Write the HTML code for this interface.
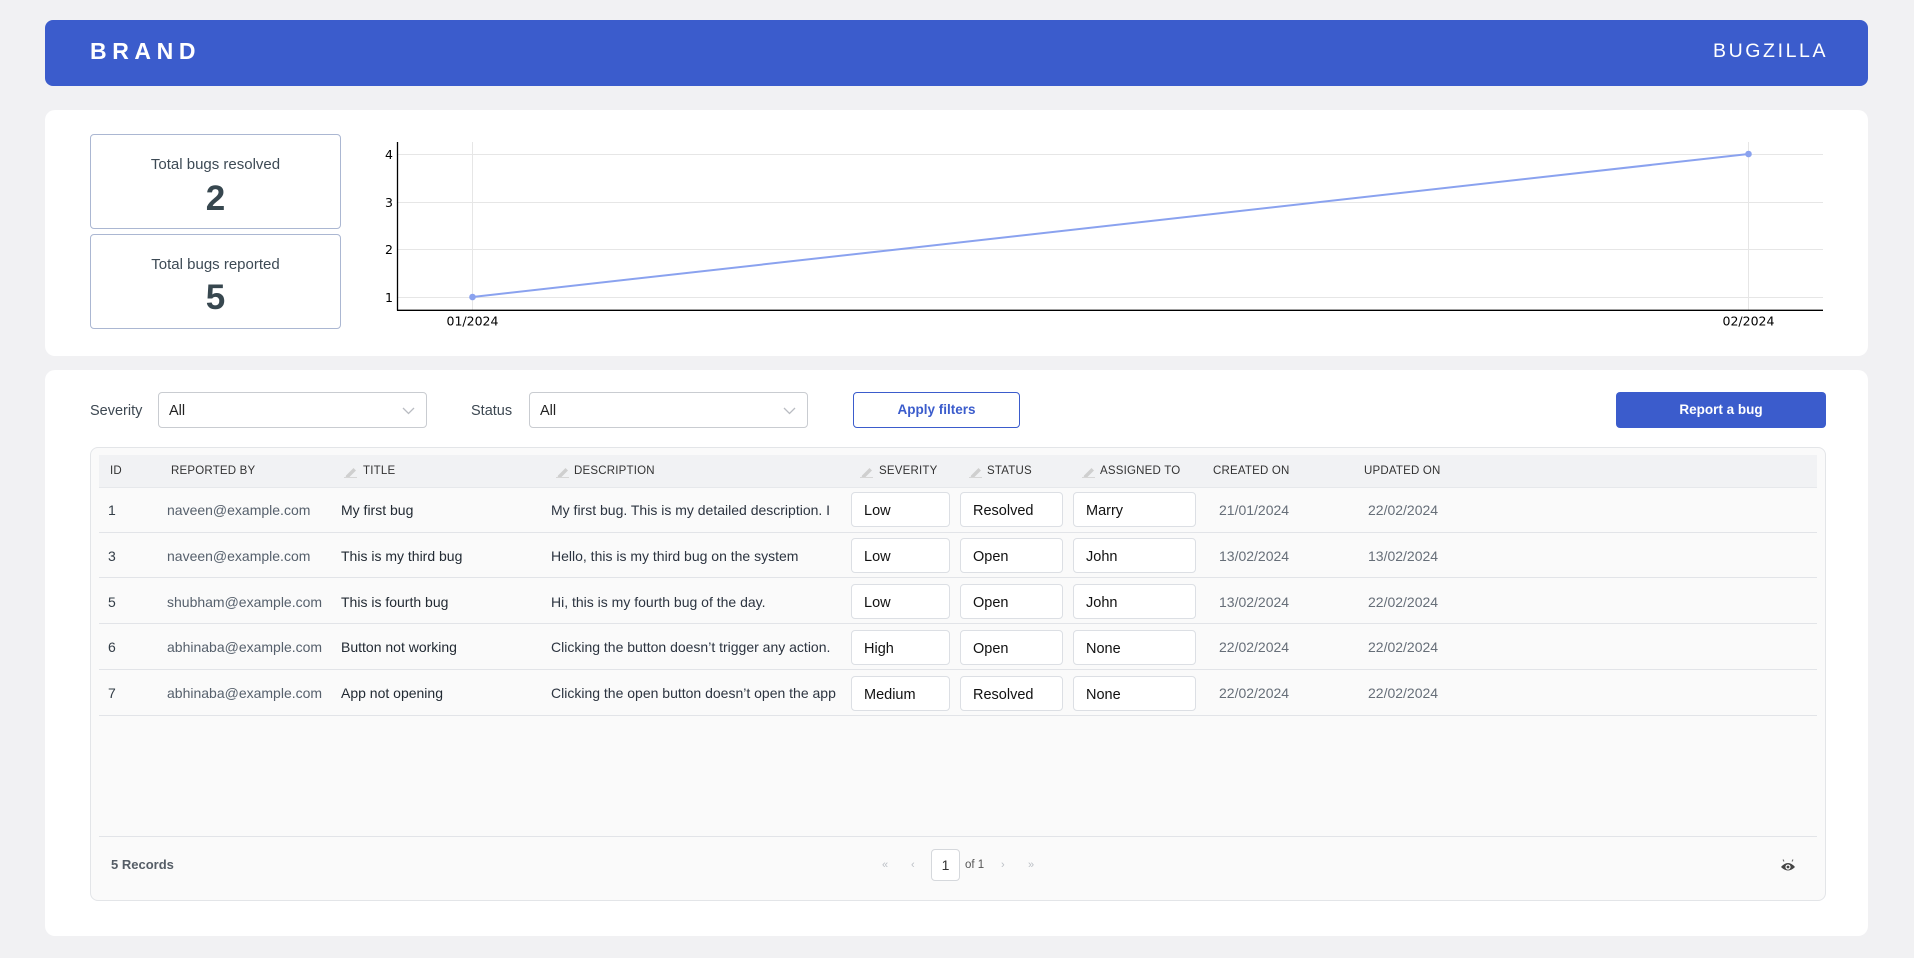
<!DOCTYPE html>
<html><head><meta charset="utf-8">
<style>
*{box-sizing:border-box;margin:0;padding:0}
html,body{width:1914px;height:958px}
body{background:#f1f1f3;font-family:"Liberation Sans",sans-serif;position:relative;overflow:hidden;color:#333}
.a{position:absolute;white-space:nowrap}
.hdr{left:45px;top:20px;width:1823px;height:66px;background:#3b5ccc;border-radius:8px}
.card{background:#fff;border-radius:10px}
.stat{border:1px solid #abb7d2;border-radius:4px;background:#fff}
.st{font-size:15px;color:#3d4a55;text-align:center;width:251px;height:18px;line-height:18px}
.sn{font-size:35px;font-weight:bold;color:#37474f;text-align:center;width:251px;height:36px;line-height:36px}
.lbl{font-size:14.5px;color:#3d4852;height:20px;line-height:20px}
.sel{border:1px solid #c9ccd1;border-radius:4px;background:#fff;height:36px;top:392px}
.sel span{position:absolute;left:10px;top:8px;font-size:14.5px;line-height:20px;color:#222}
.sel svg{position:absolute;top:14px}
.th{font-size:11.5px;color:#333;top:462px;height:18px;line-height:18px;letter-spacing:0.2px}
.pen{position:absolute;top:467px}
.td{font-size:14px;height:20px;line-height:20px}
.box{border:1px solid #dcdfe4;border-radius:4px;background:#fff;height:35px;font-size:14.5px;color:#111;line-height:37px;padding-left:12px}
.sep{left:99px;width:1718px;height:1px;background:#e2e4e8}
.pg{font-size:11px;color:#bcc0c6;top:856px;height:18px;line-height:18px}
</style></head>
<body>
<div class="a hdr"></div>
<div class="a" style="left:90px;top:40px;height:22px;line-height:22px;font-size:23px;font-weight:bold;color:#fff;letter-spacing:5.6px">BRAND</div>
<div class="a" style="left:1713px;top:41px;height:20px;line-height:20px;font-size:19.5px;color:#fff;letter-spacing:2.6px">BUGZILLA</div>

<div class="a card" style="left:45px;top:110px;width:1823px;height:246px"></div>
<div class="a stat" style="left:90px;top:134px;width:251px;height:95px"></div>
<div class="a st" style="left:90px;top:156px">Total bugs resolved</div>
<div class="a sn" style="left:90px;top:181px">2</div>
<div class="a stat" style="left:90px;top:234px;width:251px;height:95px"></div>
<div class="a st" style="left:90px;top:256px">Total bugs reported</div>
<div class="a sn" style="left:90px;top:280px">5</div>

<svg class="a" style="left:0;top:0" width="1914" height="360" xmlns="http://www.w3.org/2000/svg">
<g stroke="#e6e6e6" stroke-width="1">
<line x1="397" y1="154.5" x2="1823" y2="154.5"/>
<line x1="397" y1="202.5" x2="1823" y2="202.5"/>
<line x1="397" y1="249.5" x2="1823" y2="249.5"/>
<line x1="397" y1="297.5" x2="1823" y2="297.5"/>
<line x1="472.5" y1="142" x2="472.5" y2="310"/>
<line x1="1748.5" y1="142" x2="1748.5" y2="310"/>
</g>
<line x1="397.5" y1="142" x2="397.5" y2="310.5" stroke="#000" stroke-width="1.3"/>
<line x1="397" y1="310.3" x2="1823" y2="310.3" stroke="#000" stroke-width="1.4"/>
<line x1="472.5" y1="297" x2="1748.5" y2="154" stroke="#8aa2ef" stroke-width="2"/>
<circle cx="472.5" cy="297" r="3.3" fill="#8aa2ef"/>
<circle cx="1748.5" cy="154" r="3.3" fill="#8aa2ef"/>
<g font-family="DejaVu Sans, sans-serif" font-size="12.5" fill="#000">
<text x="393" y="159" text-anchor="end">4</text>
<text x="393" y="207" text-anchor="end">3</text>
<text x="393" y="254" text-anchor="end">2</text>
<text x="393" y="302" text-anchor="end">1</text>
<text x="472.5" y="325.5" text-anchor="middle">01/2024</text>
<text x="1748.5" y="325.5" text-anchor="middle">02/2024</text>
</g>
</svg>

<div class="a card" style="left:45px;top:370px;width:1823px;height:566px"></div>
<div class="a lbl" style="left:90px;top:401px">Severity</div>
<div class="a sel" style="left:158px;width:269px"><span>All</span><svg style="left:243px" width="13" height="8"><polyline points="1,1 6.5,6.5 12,1" fill="none" stroke="#b9bcc2" stroke-width="1.3"/></svg></div>
<div class="a lbl" style="left:471px;top:401px">Status</div>
<div class="a sel" style="left:529px;width:279px"><span>All</span><svg style="left:253px" width="13" height="8"><polyline points="1,1 6.5,6.5 12,1" fill="none" stroke="#b9bcc2" stroke-width="1.3"/></svg></div>
<div class="a" style="left:853px;top:392px;width:167px;height:36px;border:1px solid #3b5ccc;border-radius:4px;background:#fff;color:#3b5ccc;font-size:13.5px;font-weight:bold;text-align:center;line-height:34px">Apply filters</div>
<div class="a" style="left:1616px;top:392px;width:210px;height:36px;border-radius:4px;background:#3b5ccc;color:#fff;font-size:13.5px;font-weight:bold;text-align:center;line-height:36px">Report a bug</div>

<div class="a" style="left:90px;top:447px;width:1736px;height:454px;border:1px solid #e3e5e8;border-radius:8px;background:#fafafa"></div>
<div class="a" style="left:99px;top:455px;width:1718px;height:32px;background:#f1f2f4"></div>

<div class="a th" style="left:110px">ID</div>
<div class="a th" style="left:171px">REPORTED BY</div>
<svg class="pen" style="left:344px" width="14" height="11"><path d="M2,8.5 L9.5,1 L12,3.5 L4.5,11 L1.5,11 Z" fill="#cfcfcf"/><line x1="0" y1="10.5" x2="13" y2="10.5" stroke="#d6d6d6" stroke-width="1"/></svg>
<div class="a th" style="left:363px">TITLE</div>
<svg class="pen" style="left:556px" width="14" height="11"><path d="M2,8.5 L9.5,1 L12,3.5 L4.5,11 L1.5,11 Z" fill="#cfcfcf"/><line x1="0" y1="10.5" x2="13" y2="10.5" stroke="#d6d6d6" stroke-width="1"/></svg>
<div class="a th" style="left:574px">DESCRIPTION</div>
<svg class="pen" style="left:860px" width="14" height="11"><path d="M2,8.5 L9.5,1 L12,3.5 L4.5,11 L1.5,11 Z" fill="#cfcfcf"/><line x1="0" y1="10.5" x2="13" y2="10.5" stroke="#d6d6d6" stroke-width="1"/></svg>
<div class="a th" style="left:879px">SEVERITY</div>
<svg class="pen" style="left:969px" width="14" height="11"><path d="M2,8.5 L9.5,1 L12,3.5 L4.5,11 L1.5,11 Z" fill="#cfcfcf"/><line x1="0" y1="10.5" x2="13" y2="10.5" stroke="#d6d6d6" stroke-width="1"/></svg>
<div class="a th" style="left:987px">STATUS</div>
<svg class="pen" style="left:1082px" width="14" height="11"><path d="M2,8.5 L9.5,1 L12,3.5 L4.5,11 L1.5,11 Z" fill="#cfcfcf"/><line x1="0" y1="10.5" x2="13" y2="10.5" stroke="#d6d6d6" stroke-width="1"/></svg>
<div class="a th" style="left:1100px">ASSIGNED TO</div>
<div class="a th" style="left:1213px">CREATED ON</div>
<div class="a th" style="left:1364px">UPDATED ON</div>

<div class="a sep" style="top:487px;background:#e6e8eb"></div>

<!-- row 1 -->
<div class="a td" style="left:108px;top:500px;color:#333d47">1</div>
<div class="a td" style="left:167px;top:500px;color:#56606c">naveen@example.com</div>
<div class="a td" style="left:341px;top:500px;color:#222a33">My first bug</div>
<div class="a td" style="left:551px;top:500px;width:285px;overflow:hidden;color:#2c3440">My first bug. This is my detailed description. I</div>
<div class="a box" style="left:851px;top:492px;width:99px">Low</div>
<div class="a box" style="left:960px;top:492px;width:103px">Resolved</div>
<div class="a box" style="left:1073px;top:492px;width:123px">Marry</div>
<div class="a td" style="left:1219px;top:500px;color:#666e78">21/01/2024</div>
<div class="a td" style="left:1368px;top:500px;color:#666e78">22/02/2024</div>
<div class="a sep" style="top:532px"></div>

<!-- row 2 -->
<div class="a td" style="left:108px;top:546px;color:#333d47">3</div>
<div class="a td" style="left:167px;top:546px;color:#56606c">naveen@example.com</div>
<div class="a td" style="left:341px;top:546px;color:#222a33">This is my third bug</div>
<div class="a td" style="left:551px;top:546px;width:285px;overflow:hidden;color:#2c3440">Hello, this is my third bug on the system</div>
<div class="a box" style="left:851px;top:538px;width:99px">Low</div>
<div class="a box" style="left:960px;top:538px;width:103px">Open</div>
<div class="a box" style="left:1073px;top:538px;width:123px">John</div>
<div class="a td" style="left:1219px;top:546px;color:#666e78">13/02/2024</div>
<div class="a td" style="left:1368px;top:546px;color:#666e78">13/02/2024</div>
<div class="a sep" style="top:577px"></div>

<!-- row 3 -->
<div class="a td" style="left:108px;top:592px;color:#333d47">5</div>
<div class="a td" style="left:167px;top:592px;color:#56606c">shubham@example.com</div>
<div class="a td" style="left:341px;top:592px;color:#222a33">This is fourth bug</div>
<div class="a td" style="left:551px;top:592px;width:285px;overflow:hidden;color:#2c3440">Hi, this is my fourth bug of the day.</div>
<div class="a box" style="left:851px;top:584px;width:99px">Low</div>
<div class="a box" style="left:960px;top:584px;width:103px">Open</div>
<div class="a box" style="left:1073px;top:584px;width:123px">John</div>
<div class="a td" style="left:1219px;top:592px;color:#666e78">13/02/2024</div>
<div class="a td" style="left:1368px;top:592px;color:#666e78">22/02/2024</div>
<div class="a sep" style="top:623px"></div>

<!-- row 4 -->
<div class="a td" style="left:108px;top:637px;color:#333d47">6</div>
<div class="a td" style="left:167px;top:637px;color:#56606c">abhinaba@example.com</div>
<div class="a td" style="left:341px;top:637px;color:#222a33">Button not working</div>
<div class="a td" style="left:551px;top:637px;width:285px;overflow:hidden;color:#2c3440">Clicking the button doesn’t trigger any action.</div>
<div class="a box" style="left:851px;top:630px;width:99px">High</div>
<div class="a box" style="left:960px;top:630px;width:103px">Open</div>
<div class="a box" style="left:1073px;top:630px;width:123px">None</div>
<div class="a td" style="left:1219px;top:637px;color:#666e78">22/02/2024</div>
<div class="a td" style="left:1368px;top:637px;color:#666e78">22/02/2024</div>
<div class="a sep" style="top:669px"></div>

<!-- row 5 -->
<div class="a td" style="left:108px;top:683px;color:#333d47">7</div>
<div class="a td" style="left:167px;top:683px;color:#56606c">abhinaba@example.com</div>
<div class="a td" style="left:341px;top:683px;color:#222a33">App not opening</div>
<div class="a td" style="left:551px;top:683px;width:285px;overflow:hidden;color:#2c3440">Clicking the open button doesn’t open the app</div>
<div class="a box" style="left:851px;top:676px;width:99px">Medium</div>
<div class="a box" style="left:960px;top:676px;width:103px">Resolved</div>
<div class="a box" style="left:1073px;top:676px;width:123px">None</div>
<div class="a td" style="left:1219px;top:683px;color:#666e78">22/02/2024</div>
<div class="a td" style="left:1368px;top:683px;color:#666e78">22/02/2024</div>
<div class="a sep" style="top:715px"></div>

<!-- footer -->
<div class="a sep" style="top:836px"></div>
<div class="a" style="left:111px;top:856px;height:18px;line-height:18px;font-size:13px;font-weight:bold;color:#555d66">5 Records</div>
<div class="a pg" style="left:882px">«</div>
<div class="a pg" style="left:911px">‹</div>
<div class="a" style="left:931px;top:849px;width:29px;height:32px;border:1px solid #d5d8dc;border-radius:4px;background:#fff;text-align:center;line-height:30px;font-size:14px;color:#333">1</div>
<div class="a" style="left:965px;top:856px;height:18px;line-height:18px;font-size:11.5px;color:#555">of 1</div>
<div class="a pg" style="left:1001px">›</div>
<div class="a pg" style="left:1028px">»</div>
<svg class="a" style="left:1780px;top:859px" width="16" height="14"><path d="M1,8 Q8,0 15,8 Q8,15 1,8 Z" fill="#444"/><circle cx="8" cy="8" r="2.6" fill="#fff"/><circle cx="8" cy="8" r="1.4" fill="#444"/><line x1="4" y1="2.5" x2="3" y2="0.5" stroke="#666" stroke-width="1"/><line x1="12" y1="2.5" x2="13" y2="0.5" stroke="#666" stroke-width="1"/></svg>
</body></html>
